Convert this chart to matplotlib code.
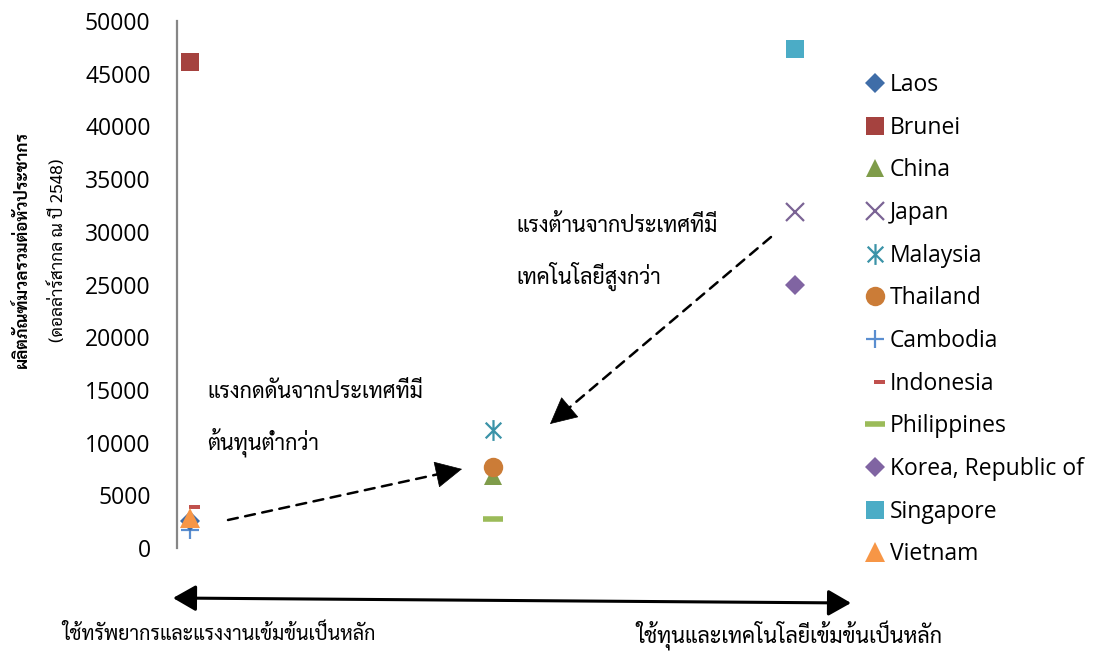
import matplotlib
matplotlib.use("Agg")
import matplotlib.pyplot as plt
from matplotlib.path import Path
from matplotlib.patches import FancyArrowPatch

# ---------------- data ----------------
countries = ["Laos", "Brunei", "China", "Japan", "Malaysia", "Thailand",
             "Cambodia", "Indonesia", "Philippines", "Korea, Republic of",
             "Singapore", "Vietnam"]
x_group = [1, 1, 2, 3, 2, 2, 1, 1, 2, 3, 3, 1]
gdp_pc = [2600, 46100, 6850, 31900, 11200, 7700,
          1700, 3900, 2750, 24950, 47350, 2800]
yticks = [0, 5000, 10000, 15000, 20000, 25000, 30000, 35000, 40000, 45000, 50000]

ylabel_1 = "ผลิตภัณฑ์มวลรวมต่อหัวประชากร"
ylabel_2 = "(ดอลล่าร์สากล ณ ปี 2548)"
note_push = ["แรงกดดันจากประเทศที่มี", "ต้นทุนต่ำกว่า"]
note_resist = ["แรงต้านจากประเทศที่มี", "เทคโนโลยีสูงกว่า"]
axis_left = "ใช้ทรัพยากรและแรงงานเข้มข้นเป็นหลัก"
axis_right = "ใช้ทุนและเทคโนโลยีเข้มข้นเป็นหลัก"

# ---------------- styles ----------------
star = Path([(0, -1), (0, 1), (-0.75, -0.75), (0.75, 0.75), (-0.75, 0.75), (0.75, -0.75)],
            [Path.MOVETO, Path.LINETO, Path.MOVETO, Path.LINETO, Path.MOVETO, Path.LINETO])
short_dash = Path([(-0.05, -0.24), (1, -0.24), (1, 0.24), (-0.05, 0.24), (-0.05, -0.24)],
                  [Path.MOVETO, Path.LINETO, Path.LINETO, Path.LINETO, Path.CLOSEPOLY])
styles = {
    "Laos": dict(marker="D", color="#3F6DA8", ms=10),
    "Brunei": dict(marker="s", color="#A5423F", ms=13),
    "China": dict(marker="^", color="#7F9C4A", ms=13),
    "Japan": dict(marker="x", color="#7B6495", ms=13, mew=1.6),
    "Malaysia": dict(marker=star, color="#3B93A8", ms=15, mew=1.6),
    "Thailand": dict(marker="o", color="#CB7C37", ms=14),
    "Cambodia": dict(marker="+", color="#5A8ED0", ms=13, mew=1.6),
    "Indonesia": dict(marker=short_dash, color="#C0504D", ms=15),
    "Philippines": dict(marker="_", color="#9BBB59", ms=14, mew=4),
    "Korea, Republic of": dict(marker="D", color="#8064A2", ms=10.5),
    "Singapore": dict(marker="s", color="#4BACC6", ms=13),
    "Vietnam": dict(marker="^", color="#F79646", ms=14),
}
draw_order = ["Cambodia", "Laos", "Indonesia", "Vietnam", "Brunei", "Philippines",
              "China", "Thailand", "Malaysia", "Korea, Republic of", "Japan", "Singapore"]

LATIN = ["Open Sans", "DejaVu Sans"]
THAI = ["Sarabun", "DejaVu Sans"]
plt.rcParams["font.family"] = LATIN

W, H = 1093, 652
fig = plt.figure(figsize=(W / 100, H / 100), dpi=100)
ax = fig.add_axes([177 / W, 1 - 548 / H, (850 - 177) / W, (548 - 21) / H])

handles = {}
for name in draw_order:
    i = countries.index(name)
    st = dict(styles[name])
    mew = st.pop("mew", None)
    kw = dict(marker=st["marker"], color=st["color"], ms=st["ms"], linestyle="none")
    if mew:
        kw["mew"] = mew
    else:
        kw["mec"] = "none"
        kw["mew"] = 0
    h, = ax.plot([x_group[i]], [gdp_pc[i]], label=name, **kw)
    handles[name] = h

ax.set_xlim(1 - 13 / 302.5, 1 + (850 - 190) / 302.5)
ax.set_ylim(0, 50000)
ax.set_yticks(yticks)
ax.set_yticklabels([str(v) for v in yticks], fontsize=16.5)
ax.tick_params(axis="y", length=0, pad=19)
ax.set_xticks([])
for s in ["top", "right", "bottom"]:
    ax.spines[s].set_visible(False)
ax.spines["left"].set_color("#868686")
ax.spines["left"].set_linewidth(1.6)
ax.patch.set_alpha(0)

# y label (two lines)
fig.text(22 / W, 1 - 250 / H, ylabel_1, rotation=90, ha="center", va="center",
         family=THAI, fontsize=12.2, fontweight="bold")
fig.text(58 / W, 1 - 250 / H, ylabel_2, rotation=90, ha="center", va="center",
         family=THAI, fontsize=12.5)

# legend
fig.legend([handles[c] for c in countries], countries, loc="upper left",
           bbox_to_anchor=(863.5 / W, 1 - 73 / H), frameon=False, fontsize=16.5,
           handlelength=1.0, handletextpad=0.16, labelspacing=0.815,
           borderpad=0, borderaxespad=0)

# annotations
def fpos(px, py):
    return (px / W, 1 - py / H)

for txt, (px, py) in zip(note_push, [(207, 393), (207, 442)]):
    fig.text(*fpos(px, py), txt, family=THAI, fontsize=15.5, va="center", ha="left")
for txt, (px, py) in zip(note_resist, [(516, 226), (516, 276)]):
    fig.text(*fpos(px, py), txt, family=THAI, fontsize=15.5, va="center", ha="left")

def dashed_arrow(p0, p1):
    a = fpos(*p0)
    b = fpos(*p1)
    fig.add_artist(FancyArrowPatch(a, b, transform=fig.transFigure, arrowstyle="-",
                                   linestyle=(0, (4, 3)), lw=1.8, color="black",
                                   shrinkA=0, shrinkB=10))
    start = (a[0] * 0.02 + b[0] * 0.98, a[1] * 0.02 + b[1] * 0.98)
    fig.add_artist(FancyArrowPatch(start, b, transform=fig.transFigure,
                                   arrowstyle="-|>,head_length=0.9,head_width=0.45",
                                   mutation_scale=20, lw=0.5, color="black",
                                   shrinkA=0, shrinkB=0))

dashed_arrow((228, 520), (462, 469))
dashed_arrow((771, 237), (550, 424))

# bottom double arrow
fig.add_artist(FancyArrowPatch(fpos(173, 598), fpos(851, 603), transform=fig.transFigure,
                               arrowstyle="<|-|>,head_length=0.7,head_width=0.4",
                               mutation_scale=20, lw=2.2, color="black",
                               shrinkA=0, shrinkB=0))

fig.text(*fpos(62, 634), axis_left, family=THAI, fontsize=14.2, va="center", ha="left")
fig.text(*fpos(636, 636), axis_right, family=THAI, fontsize=15.5, va="center", ha="left")

fig.savefig("out.png", dpi=100)
